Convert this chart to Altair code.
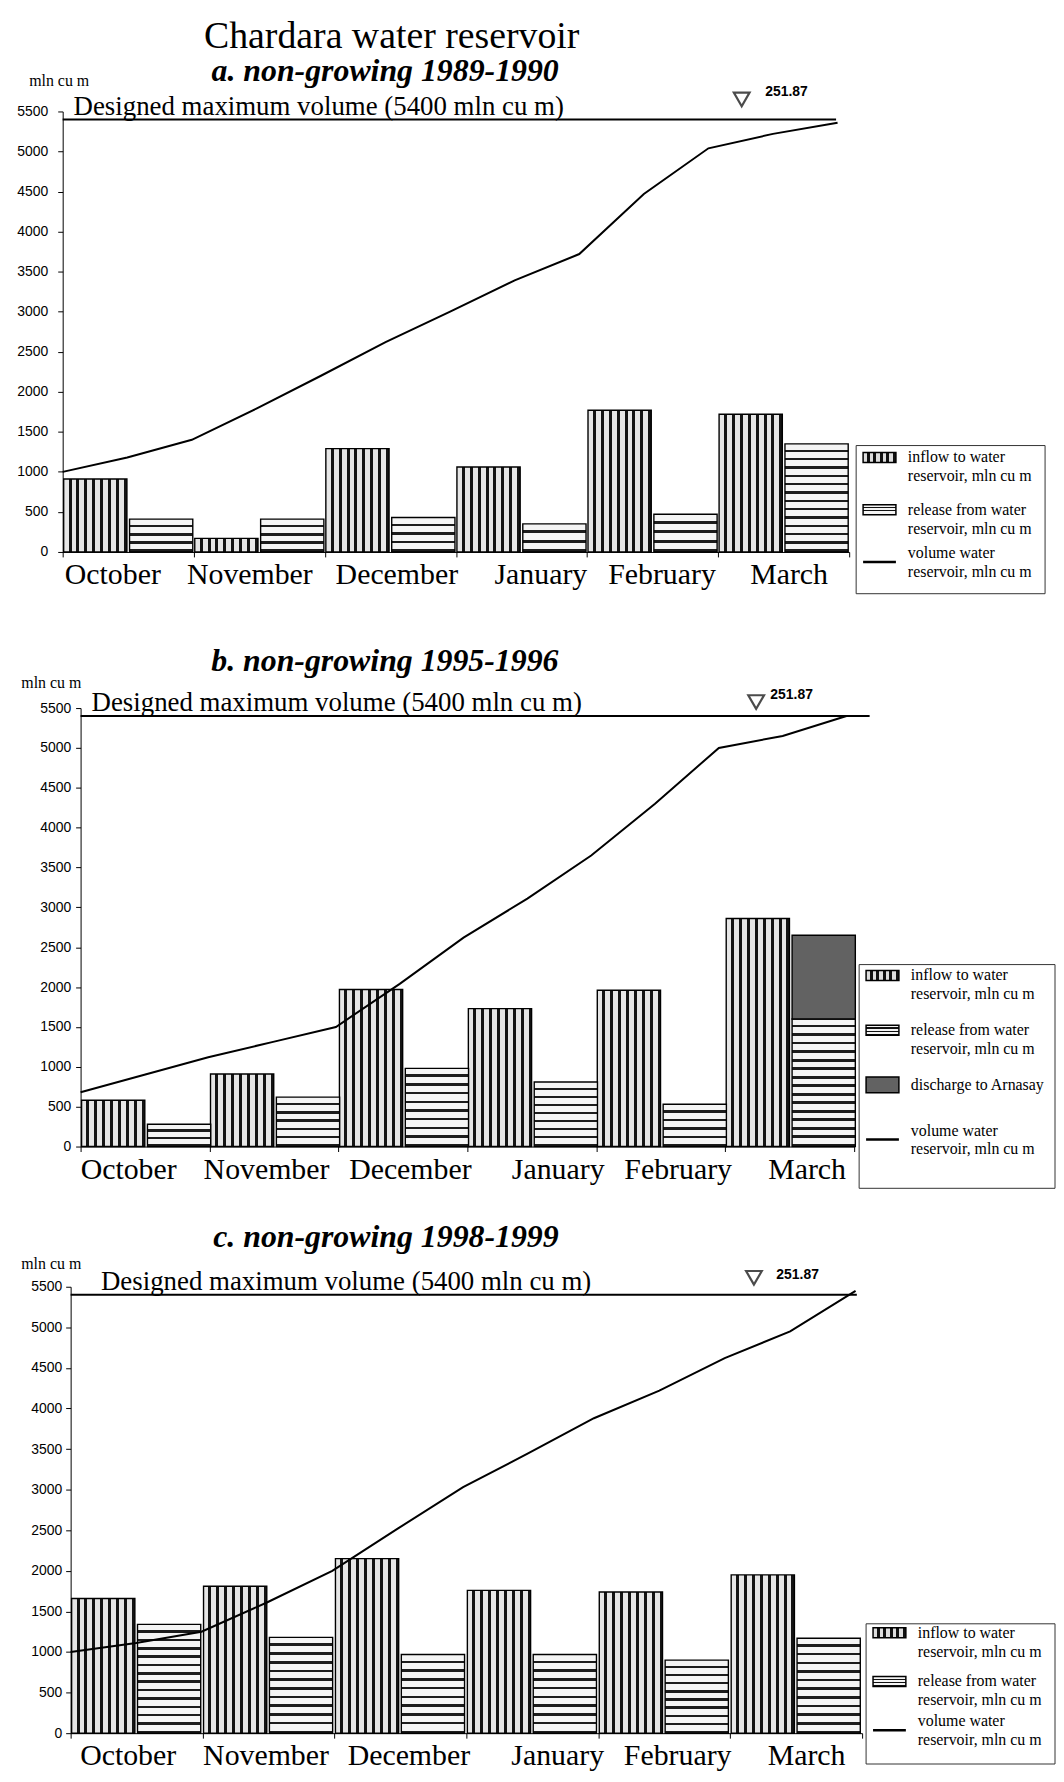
import altair as alt
import pandas as pd

# ---------------- data ----------------
MONTHS = ["October", "November", "December", "January", "February", "March"]

A_INFLOW = [910, 170, 1290, 1060, 1770, 1720]
A_RELEASE = [410, 410, 430, 350, 470, 1350]
A_VOLUME = [1000, 1180, 1400, 1790, 2200, 2620, 3000, 3390, 3720, 4470, 5040, 5220, 5360]

B_INFLOW = [580, 910, 1970, 1730, 1960, 2860]
B_RELEASE = [280, 620, 980, 810, 530, 1600]
B_DISCHARGE = [0, 0, 0, 0, 0, 1050]
B_VOLUME = [680, 900, 1120, 1310, 1500, 2040, 2620, 3110, 3650, 4300, 5000, 5150, 5400]

C_INFLOW = [1660, 1810, 2150, 1760, 1740, 1950]
C_RELEASE = [1340, 1180, 970, 970, 900, 1170]
C_VOLUME = [1000, 1110, 1250, 1610, 2000, 2520, 3030, 3450, 3880, 4220, 4620, 4950, 5450]

DESIGNED_MAX = 5400
LEVEL_LABEL = "251.87"
DESIGNED_TEXT = "Designed maximum volume (5400 mln cu m)"
UNIT = "mln cu m"
MAIN_TITLE = "Chardara water reservoir"
SUBTITLES = ["a. non-growing 1989-1990", "b. non-growing 1995-1996", "c. non-growing 1998-1999"]
LEG_INFLOW = ["inflow to water", "reservoir, mln cu m"]
LEG_RELEASE = ["release from water", "reservoir, mln cu m"]
LEG_DISCHARGE = ["discharge to Arnasay"]
LEG_VOLUME = ["volume water", "reservoir, mln cu m"]

SERIF = "Liberation Serif"
SANS = "Liberation Sans"


# ---------------- styles ----------------
def stripes(n, vertical, frac, fg, bg):
    stops = []
    for k in range(n):
        a = k / n
        b = (k + 1 - frac) / n
        c = (k + 1) / n
        stops += [
            {"offset": round(a, 5), "color": bg},
            {"offset": round(b, 5), "color": bg},
            {"offset": round(b, 5), "color": fg},
            {"offset": round(c, 5), "color": fg},
        ]
    if vertical:
        return {"gradient": "linear", "x1": 0, "y1": 0, "x2": 1, "y2": 0, "stops": stops}
    return {"gradient": "linear", "x1": 0, "y1": 0, "x2": 0, "y2": 1, "stops": stops}


INFLOW_FILL = stripes(8, True, 0.38, "#141414", "#e6e6e6")
RELEASE_STEP = 105
RELEASE_FILL = alt.FillValue(
    value=stripes(1, False, 0.3, "#1c1c1c", "#f4f4f4"),
    condition=[
        {"test": f"datum.n == {k}", "value": stripes(k, False, 0.3, "#1c1c1c", "#f4f4f4")}
        for k in range(2, 32)
    ],
)
DISCHARGE_FILL = "#626262"

Y_SCALE = alt.Scale(domain=[0, 5500], nice=False, zero=True)
XQ = alt.Scale(domain=[0, 6], nice=False, zero=False)

# layout / annotation placement per panel (x in month units, y in mln cu m units)
PANELS = [
    dict(w=791, h=443, pad=10, dtext=0.083, tri=(5.18, 5650), lvl=(5.36, 5740),
         unit=(-0.027, 5885), sub=(2.46, 6009), main=(2.51, 6431), sp=7, spacer=39,
         rule_end=5.9, line_dom=6.09, loff=[-16, -10, 6, 19, 9, 5]),
    dict(w=778, h=441, pad=5, dtext=0.085, tri=(5.24, 5575), lvl=(5.35, 5660),
         unit=(-0.227, 5812), sub=(2.36, 6086), main=None, sp=5, spacer=59,
         rule_end=6.12, line_dom=6.06, loff=[-17, -8, 7, 26, 17, 17]),
    dict(w=796, h=449, pad=4, dtext=0.23, tri=(5.18, 5610), lvl=(5.35, 5650),
         unit=(-0.147, 5782), sub=(2.39, 6112), main=None, sp=4, spacer=50,
         rule_end=5.96, line_dom=6.05, loff=[-9, -3, 8, 25, 13, 10]),
]


def x_axis(loff):
    offset = {
        "condition": [{"test": f"datum.value === '{m}'", "value": o} for m, o in zip(MONTHS, loff)],
        "value": 0,
    }
    return alt.Axis(title=None, labelAngle=0, tickBand="extent", labelFont=SERIF,
                    labelFontSize=30, labelColor="black", tickColor="black",
                    domainColor="black", tickSize=5, labelPadding=3, grid=False,
                    labelOffset=offset)


def y_axis(pad):
    return alt.Axis(title=None, values=list(range(0, 5501, 500)), format="d", grid=False,
                    labelFont=SANS, labelFontSize=14, labelColor="black",
                    tickColor="black", domainColor="black", tickSize=5,
                    labelPadding=pad)


def bar_frame(inflow, release, discharge=None):
    rows = []
    for m, v in zip(MONTHS, inflow):
        rows.append(dict(month=m, slot="a", kind="inflow", lo=0, hi=v))
    for m, v in zip(MONTHS, release):
        rows.append(dict(month=m, slot="b", kind="release", lo=0, hi=v))
    if discharge:
        for m, r, v in zip(MONTHS, release, discharge):
            if v > 0:
                rows.append(dict(month=m, slot="b", kind="discharge", lo=r, hi=r + v))
    return pd.DataFrame(rows)


def text_layer(label, pos, yax, **kw):
    return alt.Chart(pd.DataFrame({"label": [label]})).mark_text(color="black", **kw).encode(
        x=alt.XDatum(pos[0], scale=XQ, axis=None),
        y=alt.YDatum(pos[1], scale=Y_SCALE, axis=yax), text="label:N")


def panel(cfg, subtitle, inflow, release, volume, discharge=None):
    yax = y_axis(cfg["pad"])
    df = bar_frame(inflow, release, discharge)
    base = alt.Chart(df).encode(
        x=alt.X("month:N", sort=MONTHS, scale=alt.Scale(paddingInner=0, paddingOuter=0),
                axis=x_axis(cfg["loff"])),
        xOffset=alt.XOffset("slot:N", sort=["a", "b"], scale=alt.Scale(paddingInner=0.04, paddingOuter=0.015)),
        y=alt.Y("lo:Q", scale=Y_SCALE, axis=yax),
        y2="hi:Q",
    )
    layers = [
        base.transform_filter("datum.kind == 'inflow'").mark_bar(
            fill=INFLOW_FILL, stroke="black", strokeWidth=1.4),
        base.transform_filter("datum.kind == 'release'")
        .transform_calculate(n=f"max(1, round((datum.hi - datum.lo) / {RELEASE_STEP}))")
        .mark_bar(stroke="black", strokeWidth=1.4).encode(fill=RELEASE_FILL),
    ]
    if discharge:
        layers.append(base.transform_filter("datum.kind == 'discharge'").mark_bar(
            fill=DISCHARGE_FILL, stroke="black", strokeWidth=1.4))

    vol_df = pd.DataFrame({"t": [i / 2 for i in range(len(volume))], "v": volume})
    line = alt.Chart(vol_df).mark_line(color="black", strokeWidth=2).encode(
        x=alt.X("t:Q", scale=alt.Scale(domain=[0, cfg["line_dom"]], nice=False, zero=False), axis=None),
        y=alt.Y("v:Q", scale=Y_SCALE, axis=yax))
    max_df = pd.DataFrame({"v": [DESIGNED_MAX], "label": [DESIGNED_TEXT]})
    rule = alt.Chart(max_df).mark_rule(color="black", strokeWidth=2).encode(
        x=alt.XDatum(0, scale=XQ, axis=None), x2=alt.X2Datum(cfg["rule_end"]),
        y=alt.Y("v:Q", scale=Y_SCALE, axis=yax))
    designed = alt.Chart(max_df).mark_text(
        align="left", baseline="alphabetic", font=SERIF, fontSize=27, dy=-5, color="black"
    ).encode(x=alt.XDatum(cfg["dtext"], scale=XQ, axis=None),
             y=alt.Y("v:Q", scale=Y_SCALE, axis=yax), text="label:N")
    tri = alt.Chart(max_df).mark_point(
        shape="triangle-down", filled=False, stroke="black", strokeWidth=2.2, size=250
    ).encode(x=alt.XDatum(cfg["tri"][0], scale=XQ, axis=None),
             y=alt.YDatum(cfg["tri"][1], scale=Y_SCALE, axis=yax))
    lvl = text_layer(LEVEL_LABEL, cfg["lvl"], yax, align="left", baseline="middle", font=SANS,
                     fontWeight="bold", fontSize=14)
    unit = text_layer(UNIT, cfg["unit"], yax, align="center", baseline="middle", font=SERIF,
                      fontSize=16)
    sub = text_layer(subtitle, cfg["sub"], yax, align="center", baseline="middle", font=SERIF,
                     fontSize=32, fontStyle="italic", fontWeight="bold")
    qlayers = [rule, designed, tri, lvl, unit, sub]
    if cfg["main"]:
        qlayers.append(text_layer(MAIN_TITLE, cfg["main"], yax, align="center", baseline="middle",
                                  font=SERIF, fontSize=38))
    quant = alt.layer(line, alt.layer(*qlayers)).resolve_scale(x="independent")
    return alt.layer(alt.layer(*layers), quant).resolve_scale(x="independent").properties(
        width=cfg["w"], height=cfg["h"])


def legend(items, width, height, box_top, first, step):
    p0 = box_top + first
    ys = alt.Scale(domain=[-p0 / step, (height - p0) / step], reverse=True, nice=False, zero=False)
    box = alt.Chart(pd.DataFrame({"k": [0]})).mark_rect(
        fill="white", stroke="#333333", strokeWidth=1
    ).encode(x=alt.value(0), x2=alt.value(width), y=alt.value(box_top), y2=alt.value(height))
    layers = [box]
    for i, (kind, lines) in enumerate(items):
        df = pd.DataFrame({"i": [i], "l1": [lines[0]], "l2": [lines[1] if len(lines) > 1 else ""]})
        c = alt.Chart(df)
        if kind == "line":
            layers.append(c.mark_rule(color="black", strokeWidth=2.5).encode(
                x=alt.value(7), x2=alt.value(40), y=alt.Y("i:Q", scale=ys, axis=None)))
            d1 = -9
        else:
            half = (8 if kind == "discharge" else 5) / step
            fill = {"inflow": stripes(5, True, 0.45, "#111111", "#dddddd"),
                    "release": stripes(3, False, 0.35, "#111111", "#f4f4f4"),
                    "discharge": DISCHARGE_FILL}[kind]
            layers.append(
                c.transform_calculate(ya=f"datum.i - {half}", yb=f"datum.i + {half}")
                .mark_rect(fill=fill, stroke="black", strokeWidth=1.5)
                .encode(x=alt.value(7), x2=alt.value(40),
                        y=alt.Y("ya:Q", scale=ys, axis=None), y2="yb:Q"))
            d1 = 0
        layers.append(c.mark_text(align="left", baseline="middle", font=SERIF, fontSize=16,
                                  color="black", dy=d1).encode(
            x=alt.value(52), y=alt.Y("i:Q", scale=ys, axis=None), text="l1:N"))
        if len(lines) > 1:
            layers.append(c.mark_text(align="left", baseline="middle", font=SERIF, fontSize=16,
                                      color="black", dy=d1 + 19).encode(
                x=alt.value(52), y=alt.Y("i:Q", scale=ys, axis=None), text="l2:N"))
    return alt.layer(*layers).properties(width=width, height=height)


def spacer(w):
    return alt.Chart(pd.DataFrame({"k": [0]})).mark_point(opacity=0).properties(width=w, height=10)


pa = panel(PANELS[0], SUBTITLES[0], A_INFLOW, A_RELEASE, A_VOLUME)
pb = panel(PANELS[1], SUBTITLES[1], B_INFLOW, B_RELEASE, B_VOLUME, B_DISCHARGE)
pc = panel(PANELS[2], SUBTITLES[2], C_INFLOW, C_RELEASE, C_VOLUME)

la = legend([("inflow", LEG_INFLOW), ("release", LEG_RELEASE), ("line", LEG_VOLUME)],
            190, 485, 336, 12, 52.5)
lb = legend([("inflow", LEG_INFLOW), ("release", LEG_RELEASE), ("discharge", LEG_DISCHARGE),
             ("line", LEG_VOLUME)], 197, 483, 258, 11, 55)
lc = legend([("inflow", LEG_INFLOW), ("release", LEG_RELEASE), ("line", LEG_VOLUME)],
            190, 480, 339, 9, 49)

rows = []
for cfg, p, lg in zip(PANELS, [pa, pb, pc], [la, lb, lc]):
    rows.append(alt.hconcat(spacer(cfg["spacer"]), p, lg, spacing=cfg["sp"], bounds="flush"))

upper = alt.concat(rows[0], rows[1], columns=1, spacing=51, align="none")
chart = alt.concat(upper, rows[2], columns=1, spacing=32, align="none").properties(
    padding={"left": 8, "top": 5, "right": 0, "bottom": 0}, background="white"
).configure_view(strokeWidth=0, stroke="transparent")

chart.save("out.html", embed_options={"renderer": "svg", "actions": False})
